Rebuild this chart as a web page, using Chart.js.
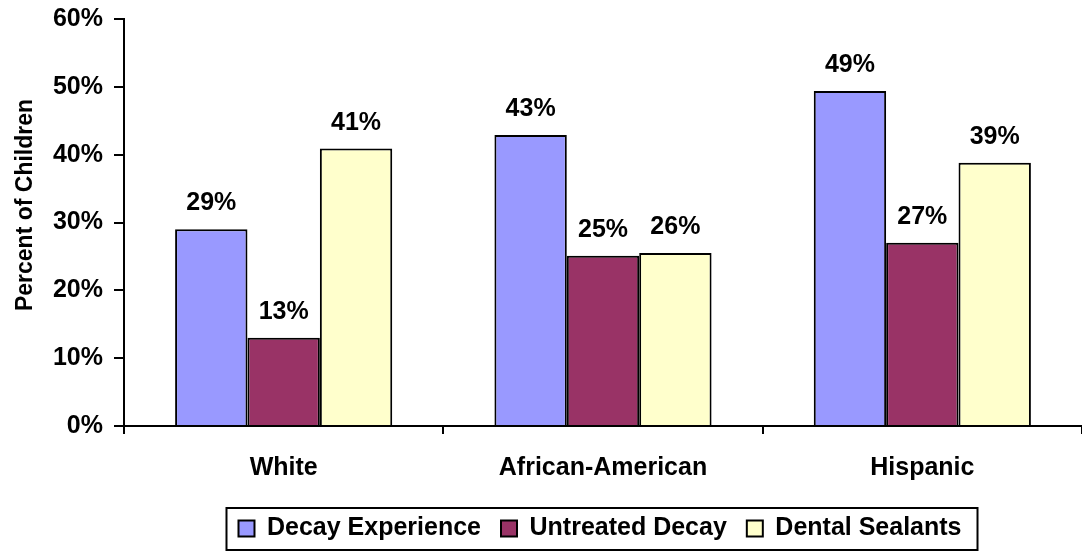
<!DOCTYPE html>
<html>
<head>
<meta charset="utf-8">
<script src="https://cdn.jsdelivr.net/npm/chart.js@4"></script>
<style>
  html, body { margin: 0; padding: 0; background: #fff; }
  #wrap { width: 1082px; height: 554px; }
</style>
</head>
<body>
<div id="wrap"><canvas id="dentalChart" width="1082" height="554"></canvas></div>
<script>
// Chart data
const categories = ["White", "African-American", "Hispanic"];
const decayExperience = [29.0, 42.9, 49.4];
const untreatedDecay = [13.0, 25.1, 27.0];
const dentalSealants = [40.9, 25.5, 38.8];
const yTicks = [0, 10, 20, 30, 40, 50, 60];
const yTitle = "Percent of Children";

const FONT = "'Liberation Sans', Arial, sans-serif";

// Draws the percent label above each bar
const barLabels = {
  id: "barLabels",
  afterDatasetsDraw(chart) {
    const ctx = chart.ctx;
    ctx.save();
    ctx.font = "bold 25px " + FONT;
    ctx.fillStyle = "#000";
    ctx.textAlign = "center";
    ctx.textBaseline = "alphabetic";
    chart.data.datasets.forEach((ds, i) => {
      chart.getDatasetMeta(i).data.forEach((bar, j) => {
        ctx.fillText(Math.round(ds.data[j]) + "%", bar.x, bar.y - 19);
      });
    });
    ctx.restore();
  }
};

// Vertical axis title, sitting a little above the middle like the original
const axisTitle = {
  id: "axisTitle",
  afterDraw(chart) {
    const ctx = chart.ctx;
    ctx.save();
    ctx.translate(26, 205);
    ctx.rotate(-Math.PI / 2);
    ctx.font = "bold 23px " + FONT;
    ctx.fillStyle = "#000";
    ctx.textAlign = "center";
    ctx.textBaseline = "middle";
    ctx.fillText(yTitle, 0, 0);
    ctx.restore();
  }
};

// Centers the legend under the plot area and puts a box round it
const legendBox = {
  id: "legendBox",
  beforeDraw(chart) {
    const lg = chart.legend;
    const boxes = lg.legendHitBoxes;
    if (!boxes.length) return;
    const left = Math.min(...boxes.map(b => b.left));
    const right = Math.max(...boxes.map(b => b.left + b.width));
    const area = chart.chartArea;
    const shift = (area.left + area.right) / 2 - (left + right) / 2 - 3;
    lg.left += shift;
    lg.right += shift;
    boxes.forEach(b => { b.left += shift; });
  },
  afterDraw(chart) {
    const boxes = chart.legend.legendHitBoxes;
    if (!boxes.length) return;
    const left = Math.min(...boxes.map(b => b.left)) - 12;
    const right = Math.max(...boxes.map(b => b.left + b.width)) + 16;
    const top = Math.min(...boxes.map(b => b.top)) - 8;
    const bottom = Math.max(...boxes.map(b => b.top + b.height)) + 9;
    const ctx = chart.ctx;
    ctx.save();
    ctx.strokeStyle = "#000";
    ctx.lineWidth = 2;
    ctx.strokeRect(left, top, right - left, bottom - top);
    ctx.restore();
  }
};

new Chart(document.getElementById("dentalChart").getContext("2d"), {
  type: "bar",
  data: {
    labels: categories,
    datasets: [
      {
        label: "Decay Experience",
        data: decayExperience,
        backgroundColor: "#9999FF",
        borderColor: "#000",
        borderWidth: 2
      },
      {
        label: "Untreated Decay",
        data: untreatedDecay,
        backgroundColor: "#993366",
        borderColor: "#000",
        borderWidth: 2
      },
      {
        label: "Dental Sealants",
        data: dentalSealants,
        backgroundColor: "#FFFFCC",
        borderColor: "#000",
        borderWidth: 2
      }
    ]
  },
  options: {
    responsive: false,
    animation: false,
    devicePixelRatio: 1,
    layout: { padding: { top: 19, right: -5, bottom: 3, left: 0 } },
    datasets: {
      bar: { categoryPercentage: 0.68, barPercentage: 1.0, borderSkipped: "start" }
    },
    plugins: {
      tooltip: { enabled: false },
      legend: {
        position: "bottom",
        labels: {
          color: "#000",
          font: { family: FONT, size: 25, weight: "bold" },
          boxWidth: 16,
          boxHeight: 16,
          padding: 20
        }
      }
    },
    scales: {
      x: {
        grid: {
          offset: true,
          drawOnChartArea: false,
          color: "#000",
          lineWidth: 2,
          tickLength: 8
        },
        border: { color: "#000", width: 2 },
        ticks: {
          color: "#000",
          padding: 19,
          maxRotation: 0,
          font: { family: FONT, size: 25, weight: "bold" }
        },
        afterFit(scale) { scale.height = 70; }
      },
      y: {
        min: 0,
        max: 60,
        afterBuildTicks(scale) { scale.ticks = yTicks.map(v => ({ value: v })); },
        grid: {
          drawOnChartArea: false,
          color: "#000",
          lineWidth: 2,
          tickLength: 10
        },
        border: { color: "#000", width: 2 },
        ticks: {
          color: "#000",
          padding: 11,
          font: { family: FONT, size: 25, weight: "bold" },
          callback: (v) => v + "%"
        },
        afterFit(scale) {
          scale.width = 124;
          scale.paddingTop = 0;
          scale.paddingBottom = 0;
        }
      }
    }
  },
  plugins: [barLabels, axisTitle, legendBox]
});
</script>
</body>
</html>
